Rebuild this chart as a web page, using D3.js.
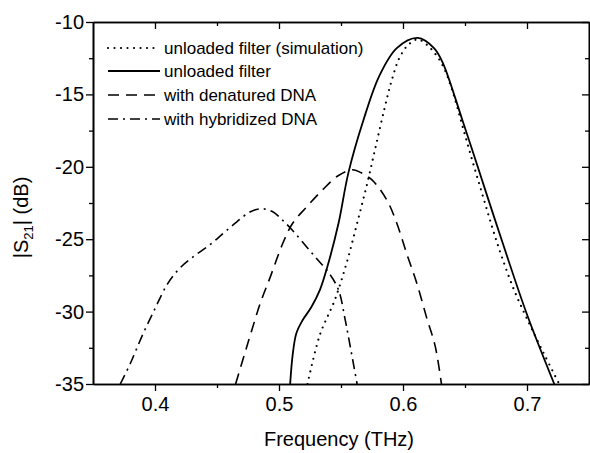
<!DOCTYPE html>
<html>
<head>
  <meta charset="utf-8" />
  <script src="https://cdn.jsdelivr.net/npm/d3@7"></script>
  <style>
    body { margin: 0; background: white; }
    text { font-family: Arial, "Liberation Sans", sans-serif; fill: black; }
  </style>
</head>
<body>
<script>
// canvas
var w = 590, h = 453;
var margin = {top: 22, right: 1, bottom: 69, left: 93};
var pw = w - margin.left - margin.right;
var ph = h - margin.top - margin.bottom;

// - - - - - DATA - - - - - //
var xTicks = [0.4, 0.5, 0.6, 0.7];
var xMinor = [0.45, 0.55, 0.65];
var yTicks = [-10, -15, -20, -25, -30, -35];
var yMinor = [-12.5, -17.5, -22.5, -27.5, -32.5];

// unloaded filter (simulation) - dotted
var simFreq = [0.523, 0.533, 0.545, 0.555, 0.563, 0.571, 0.578, 0.585, 0.591, 0.597, 0.604, 0.612, 0.622, 0.632, 0.640, 0.648, 0.656, 0.664, 0.672, 0.680, 0.690, 0.700, 0.713, 0.726];
var simDb   = [-35, -31.6, -29.2, -26.5, -23.9, -21.2, -18.6, -16.0, -14.0, -12.5, -11.6, -11.2, -11.8, -13.0, -14.8, -17.2, -19.6, -21.9, -24.2, -26.3, -28.6, -30.5, -32.8, -35];

// unloaded filter (measured) - solid
var measFreq = [0.509, 0.511, 0.514, 0.519, 0.526, 0.533, 0.539, 0.548, 0.556, 0.568, 0.581, 0.595, 0.612, 0.625, 0.632, 0.648, 0.669, 0.679, 0.700, 0.722];
var measDb   = [-35, -33.0, -31.5, -30.6, -29.7, -28.5, -26.9, -23.9, -20.4, -16.8, -13.7, -11.8, -11.1, -11.8, -12.8, -16.8, -22.3, -24.9, -30.2, -35];

// with denatured DNA - dashed
var denFreq = [0.465, 0.472, 0.478, 0.485, 0.493, 0.503, 0.511, 0.522, 0.535, 0.548, 0.559, 0.566, 0.575, 0.587, 0.595, 0.603, 0.611, 0.619, 0.626, 0.631];
var denDb   = [-35, -33.0, -31.3, -29.4, -27.6, -25.3, -23.9, -22.8, -21.6, -20.6, -20.2, -20.4, -20.9, -22.3, -23.9, -26.0, -28.0, -30.4, -32.4, -35];

// with hybridized DNA - dash-dot
var hybFreq = [0.372, 0.380, 0.390, 0.400, 0.410, 0.420, 0.431, 0.444, 0.455, 0.466, 0.477, 0.486, 0.495, 0.503, 0.511, 0.522, 0.531, 0.540, 0.548, 0.553, 0.557, 0.563];
var hybDb   = [-35, -33.6, -31.6, -29.8, -28.1, -27.0, -26.2, -25.4, -24.6, -23.8, -23.1, -22.9, -23.1, -23.7, -24.4, -25.5, -26.4, -27.3, -28.5, -30.4, -32.2, -35];

var series = [
  {name: "unloaded filter (simulation)", f: simFreq, v: simDb, dash: "0,6.5", width: 2.2, cap: "round"},
  {name: "unloaded filter", f: measFreq, v: measDb, dash: null, width: 1.8, cap: "butt"},
  {name: "with denatured DNA", f: denFreq, v: denDb, dash: "11,7", width: 1.6, cap: "butt"},
  {name: "with hybridized DNA", f: hybFreq, v: hybDb, dash: "10,5,2,5", width: 1.6, cap: "butt"}
];

// - - - - - SVG - - - - - //
var svg = d3.select("body").append("svg")
  .attr("width", w)
  .attr("height", h);

var g = svg.append("g")
  .attr("transform", "translate(" + margin.left + "," + margin.top + ")");

// scales
var x = d3.scaleLinear().domain([0.35, 0.75]).range([0, pw]);
var y = d3.scaleLinear().domain([-35, -10]).range([ph, 0]);

// clip
svg.append("defs").append("clipPath").attr("id", "clip")
  .append("rect").attr("width", pw).attr("height", ph);

// - - - - - AXES - - - - - //
var fmt = function(d){ return String(d); };

function styleAxis(sel){
  sel.selectAll("path").attr("stroke", "black").attr("stroke-width", 1.6);
  sel.selectAll("line").attr("stroke", "black").attr("stroke-width", 1.3);
  sel.selectAll("text").attr("font-size", "20px").attr("fill", "black")
    .attr("font-family", "Arial, 'Liberation Sans', sans-serif");
}

// bottom
g.append("g").attr("transform", "translate(0," + ph + ")")
  .call(d3.axisBottom(x).tickValues(xTicks).tickSize(7).tickSizeOuter(0).tickPadding(6).tickFormat(d3.format(".1f")))
  .call(styleAxis);
g.append("g").attr("transform", "translate(0," + ph + ")")
  .call(d3.axisBottom(x).tickValues(xMinor).tickSize(4).tickSizeOuter(0).tickFormat(""))
  .call(styleAxis);
// top (inward)
g.append("g")
  .call(d3.axisTop(x).tickValues(xTicks).tickSize(-7).tickSizeOuter(0).tickFormat(""))
  .call(styleAxis);
g.append("g")
  .call(d3.axisTop(x).tickValues(xMinor).tickSize(-4).tickSizeOuter(0).tickFormat(""))
  .call(styleAxis);
// left
g.append("g")
  .call(d3.axisLeft(y).tickValues(yTicks).tickSize(7).tickSizeOuter(0).tickPadding(2).tickFormat(fmt))
  .call(styleAxis);
g.append("g")
  .call(d3.axisLeft(y).tickValues(yMinor).tickSize(4).tickSizeOuter(0).tickFormat(""))
  .call(styleAxis);
// right (inward)
g.append("g").attr("transform", "translate(" + pw + ",0)")
  .call(d3.axisRight(y).tickValues(yTicks).tickSize(-7).tickSizeOuter(0).tickFormat(""))
  .call(styleAxis);
g.append("g").attr("transform", "translate(" + pw + ",0)")
  .call(d3.axisRight(y).tickValues(yMinor).tickSize(-4).tickSizeOuter(0).tickFormat(""))
  .call(styleAxis);

// axis titles
svg.append("text")
  .attr("x", margin.left + x(0.55) - 2)
  .attr("y", 446)
  .attr("text-anchor", "middle")
  .attr("font-size", "20px")
  .text("Frequency (THz)");

var yl = svg.append("text")
  .attr("transform", "translate(28," + (margin.top + y(-23.5)) + ") rotate(-90)")
  .attr("text-anchor", "middle")
  .attr("font-size", "20px");
yl.append("tspan").text("|S");
yl.append("tspan").attr("font-size", "13px").attr("dy", 5).text("21");
yl.append("tspan").attr("dy", -5).text("| (dB)");

// - - - - - CURVES - - - - - //
var line = d3.line()
  .x(function(d){ return x(d[0]); })
  .y(function(d){ return y(d[1]); })
  .curve(d3.curveCatmullRom.alpha(0.5));

var curves = g.append("g").attr("clip-path", "url(#clip)");
series.forEach(function(s){
  var pts = s.f.map(function(f, i){ return [f, s.v[i]]; });
  curves.append("path")
    .datum(pts)
    .attr("d", line)
    .attr("fill", "none")
    .attr("stroke", "black")
    .attr("stroke-width", s.width)
    .attr("stroke-linecap", s.cap)
    .attr("stroke-dasharray", s.dash);
});

// - - - - - LEGEND - - - - - //
var legRows = [48, 71, 95, 119];
var leg = svg.append("g");
series.forEach(function(s, i){
  var ly = legRows[i];
  leg.append("line")
    .attr("x1", 108).attr("x2", 160)
    .attr("y1", ly).attr("y2", ly)
    .attr("stroke", "black")
    .attr("stroke-width", s.width)
    .attr("stroke-linecap", s.cap)
    .attr("stroke-dasharray", s.dash);
  leg.append("text")
    .attr("x", 164)
    .attr("y", ly + 6)
    .attr("font-size", "17px")
    .text(s.name);
});
</script>
</body>
</html>
